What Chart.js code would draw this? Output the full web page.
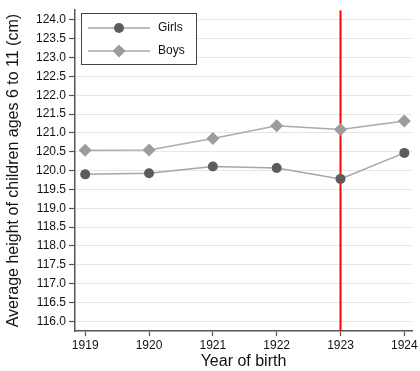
<!DOCTYPE html>
<html lang="en">
<head>
    <meta charset="utf-8" />
    <title>Height by year of birth</title>
    <style>
        html, body { margin: 0; padding: 0; background: #fff; }
        #wrap { width: 420px; height: 371px; }
    </style>
</head>
<body>
    <div id="wrap"><canvas id="heightChart" width="420" height="371"></canvas></div>
    <script src="https://cdn.jsdelivr.net/npm/chart.js"></script>
    <script>
        var years = [1919, 1920, 1921, 1922, 1923, 1924];
        var girls = [119.90, 119.93, 120.11, 120.07, 119.78, 120.47];
        var boys = [120.54, 120.55, 120.85, 121.19, 121.09, 121.32];
        var yTicks = [116.0, 116.5, 117.0, 117.5, 118.0, 118.5, 119.0, 119.5, 120.0,
                      120.5, 121.0, 121.5, 122.0, 122.5, 123.0, 123.5, 124.0];
        var cutoffYear = 1923;
        var yMin = 115.74, yMax = 124.26;

        var font = "'Liberation Sans', Arial, Helvetica, sans-serif";
        Chart.defaults.font.family = font;
        Chart.defaults.color = '#111';

        // legend drawn inside the plot, boxed like the original
        var boxLegend = {
            id: 'boxLegend',
            afterDraw: function (chart) {
                var ctx = chart.ctx;
                ctx.save();
                ctx.strokeStyle = '#444';
                ctx.lineWidth = 1;
                ctx.fillStyle = '#fff';
                ctx.fillRect(81, 13, 115, 51);
                ctx.strokeRect(81.5, 13.5, 115, 51);
                [0, 1].forEach(function (i) {
                    var ds = chart.data.datasets[i];
                    var y = 28 + i * 23;
                    ctx.strokeStyle = ds.borderColor;
                    ctx.lineWidth = 1.5;
                    ctx.beginPath();
                    ctx.moveTo(88, y);
                    ctx.lineTo(150, y);
                    ctx.stroke();
                    ctx.fillStyle = ds.pointBackgroundColor;
                    ctx.beginPath();
                    if (ds.pointStyle === 'circle') {
                        ctx.arc(119, y, ds.pointRadius, 0, Math.PI * 2);
                    } else {
                        var r = ds.pointRadius;
                        ctx.moveTo(119, y - r); ctx.lineTo(119 + r, y);
                        ctx.lineTo(119, y + r); ctx.lineTo(119 - r, y);
                        ctx.closePath();
                    }
                    ctx.fill();
                    ctx.fillStyle = '#111';
                    ctx.font = '12px ' + font;
                    ctx.textBaseline = 'middle';
                    ctx.fillText(ds.label, 158, y);
                });
                ctx.restore();
            }
        };

        new Chart(document.getElementById('heightChart'), {
            type: 'line',
            data: {
                datasets: [{
                    label: 'Girls',
                    data: years.map(function (x, i) { return { x: x, y: girls[i] }; }),
                    borderColor: '#a6a6a6',
                    borderWidth: 1.5,
                    pointStyle: 'circle',
                    pointRadius: 5,
                    pointBackgroundColor: '#5c5c5c',
                    pointBorderWidth: 0
                }, {
                    label: 'Boys',
                    data: years.map(function (x, i) { return { x: x, y: boys[i] }; }),
                    borderColor: '#ababab',
                    borderWidth: 1.5,
                    pointStyle: 'rectRot',
                    pointRadius: 6.5,
                    pointBackgroundColor: '#9c9c9c',
                    pointBorderWidth: 0
                }, {
                    label: 'cutoff',
                    data: [{ x: cutoffYear, y: yMin }, { x: cutoffYear, y: yMax }],
                    borderColor: '#ff0000',
                    borderWidth: 2,
                    pointRadius: 0
                }]
            },
            options: {
                responsive: false,
                animation: false,
                layout: { padding: { top: 6, right: 8, left: 0, bottom: 0 } },
                plugins: {
                    legend: { display: false },
                    tooltip: { enabled: false }
                },
                scales: {
                    x: {
                        type: 'linear',
                        min: 1918.84,
                        max: 1924.12,
                        afterBuildTicks: function (axis) {
                            axis.ticks = years.map(function (v) { return { value: v }; });
                        },
                        afterFit: function (axis) { axis.height = 40; },
                        ticks: {
                            font: { size: 12 },
                            color: '#111',
                            padding: 2,
                            maxRotation: 0,
                            callback: function (v) { return String(v); }
                        },
                        grid: {
                            drawOnChartArea: false,
                            tickColor: '#555',
                            tickLength: 5,
                            tickWidth: 1.2
                        },
                        border: { color: '#555', width: 1.5 },
                        title: {
                            display: true,
                            text: 'Year of birth',
                            font: { size: 16 },
                            color: '#111',
                            padding: { top: 0, bottom: 0 }
                        }
                    },
                    y: {
                        min: yMin,
                        max: yMax,
                        afterBuildTicks: function (axis) {
                            axis.ticks = yTicks.map(function (v) { return { value: v }; });
                        },
                        afterFit: function (axis) { axis.width = 75; },
                        ticks: {
                            font: { size: 12 },
                            color: '#111',
                            padding: 3,
                            callback: function (v) { return Number(v).toFixed(1); }
                        },
                        grid: {
                            color: '#e6e6e6',
                            lineWidth: 1,
                            tickColor: '#555',
                            tickLength: 6,
                            tickWidth: 1.2
                        },
                        border: { color: '#555', width: 1.5 },
                        title: {
                            display: true,
                            text: 'Average height of children ages 6 to 11 (cm)',
                            font: { size: 16 },
                            color: '#111',
                            padding: { top: 4, bottom: 2 }
                        }
                    }
                }
            },
            plugins: [boxLegend]
        });
    </script>
</body>
</html>
